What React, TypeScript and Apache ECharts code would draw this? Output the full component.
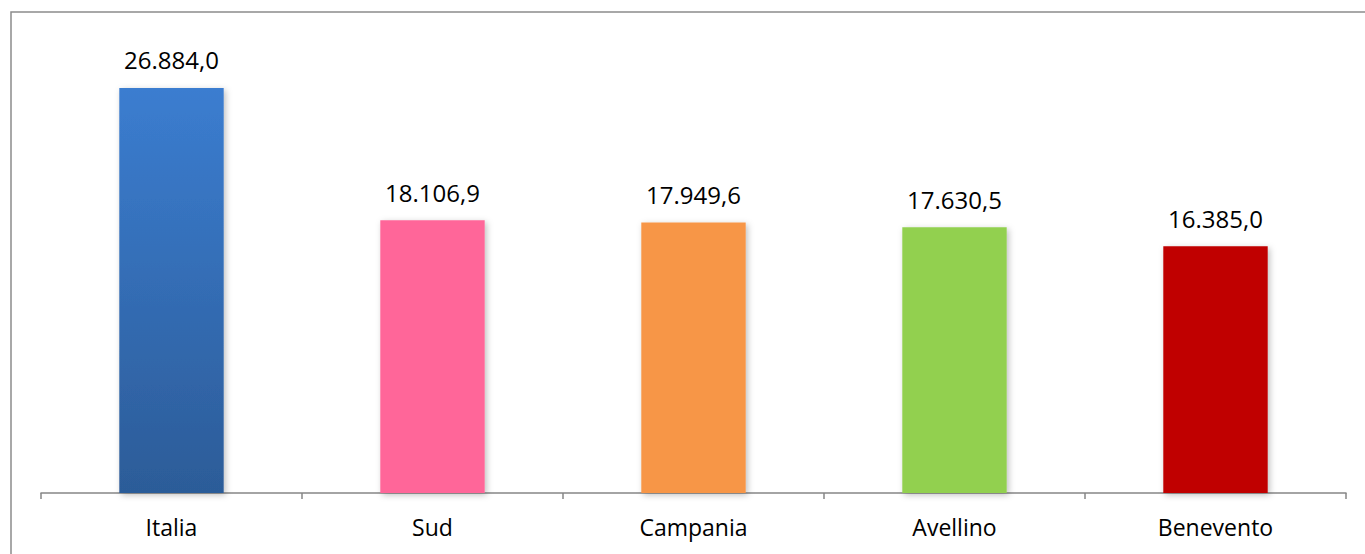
import React, { useEffect, useRef } from "react";
import * as echarts from "echarts";

const categories = ["Italia", "Sud", "Campania", "Avellino", "Benevento"];
const values = [26884.0, 18106.9, 17949.6, 17630.5, 16385.0];
const barColors = ["#3A7CCD", "#FF6699", "#F79646", "#92D050", "#C00000"];

function fmt(v: number): string {
  const fixed = v.toFixed(1);
  const [intPart, dec] = fixed.split(".");
  const withDots = intPart.replace(/\B(?=(\d{3})+(?!\d))/g, ".");
  return withDots + "," + dec;
}

export default function App() {
  const ref = useRef<HTMLDivElement>(null);
  useEffect(() => {
    if (!ref.current) return;
    const chart = echarts.init(ref.current, undefined, { renderer: "svg" });
    const data = values.map((v, i) => ({
      value: v,
      itemStyle:
        i === 0
          ? {
              color: new echarts.graphic.LinearGradient(0, 0, 0, 1, [
                { offset: 0, color: "#3B7DD0" },
                { offset: 1, color: "#2C5C98" },
              ]),
            }
          : { color: barColors[i] },
    }));
    chart.setOption({
      animation: false,
      backgroundColor: "#ffffff",
      graphic: [
        {
          type: "rect",
          shape: { x: 11, y: 12, width: 1400, height: 600 },
          style: { fill: "none", stroke: "#8C8C8C", lineWidth: 1.5 },
          silent: true,
        },
      ],
      grid: { left: 41, right: 19, top: 41, bottom: 61 },
      xAxis: {
        type: "category",
        data: categories,
        axisLine: { lineStyle: { color: "#868686", width: 1.5 } },
        axisTick: { show: true, length: 6, lineStyle: { color: "#868686", width: 1.5 } },
        axisLabel: {
          color: "#000000",
          fontSize: 23,
          fontFamily: "Open Sans",
          margin: 22,
        },
      },
      yAxis: {
        type: "value",
        min: 0,
        max: 30000,
        show: false,
        splitLine: { show: false },
      },
      series: [
        {
          type: "bar",
          data,
          barCategoryGap: "60%",
          itemStyle: {
            shadowColor: "rgba(0,0,0,0.25)",
            shadowBlur: 6,
            shadowOffsetX: 2,
            shadowOffsetY: 2,
          },
          label: {
            show: true,
            position: "top",
            distance: 16,
            color: "#000000",
            fontSize: 24,
            fontFamily: "Open Sans",
            formatter: (p: any) => fmt(p.value),
          },
        },
      ],
    });
    return () => chart.dispose();
  }, []);
  return (
    <div
      ref={ref}
      style={{ position: "absolute", left: 0, top: 0, width: 1365, height: 554 }}
    />
  );
}
